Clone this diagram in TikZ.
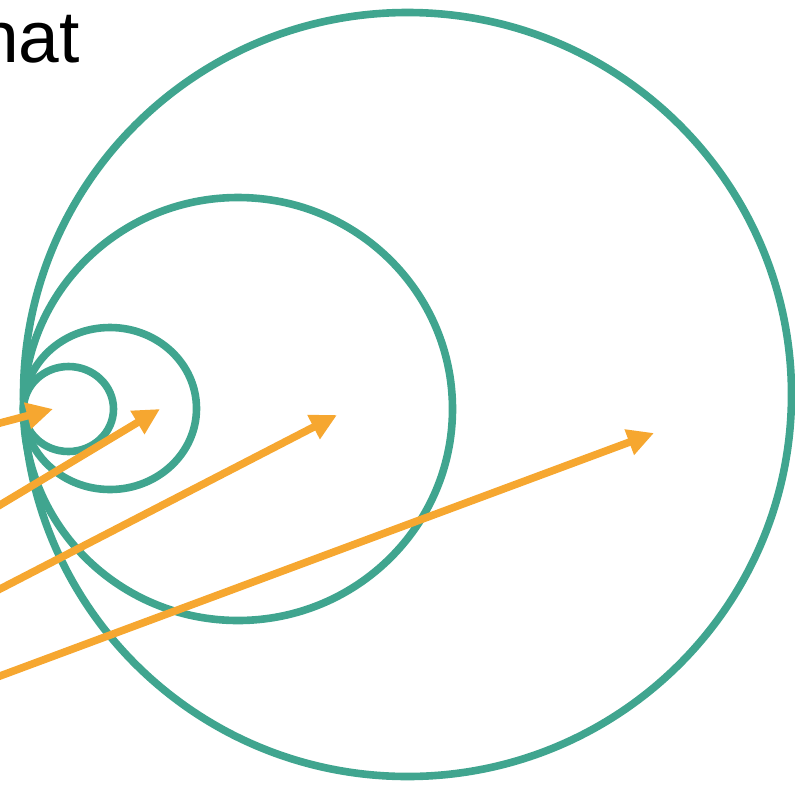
\documentclass[tikz,border=0pt]{standalone}
\usepackage{fontspec}
\setmainfont{Liberation Sans}
\usetikzlibrary{arrows.meta}
\definecolor{ringteal}{RGB}{64,165,143}
\definecolor{arroworange}{RGB}{246,167,48}

\begin{document}
\begin{tikzpicture}[
        x=0.025cm, y=-0.025cm,
        ring/.style={draw=ringteal, line width=0.19cm},
        ptr/.style={-{Triangle[length=0.66cm, width=0.64cm]}, line width=0.19cm, arroworange},
        title/.style={font=\fontsize{52}{62}\selectfont, inner sep=0pt, anchor=base east},
    ]
    \useasboundingbox (0,0) rectangle (795,784);
    \clip (0,0) rectangle (795,784);

    % ===== Title (cut at the left edge) =====
    \node[title] (T) at (80,62) {hat};

    % ===== Nested rings, all touching on the left =====
    \draw[ring] (68.5,409) circle [x radius=45, y radius=42.5];
    \draw[ring] (110,408.5) circle [x radius=86.5, y radius=81];
    \draw[ring] (238,409) circle [x radius=214.5, y radius=211.5];
    \draw[ring] (407.5,394.5) circle [x radius=384, y radius=382];

    % ===== Pointers coming in from the left =====
    \coordinate (s1) at (-20,428.3);  \coordinate (t1) at (53,409);
    \coordinate (s2) at (-20,517);    \coordinate (t2) at (160,409);
    \coordinate (s3) at (-20,599.3);  \coordinate (t3) at (337,415);
    \coordinate (s4) at (-20,683.4);  \coordinate (t4) at (654,433);

    \foreach \i in {1,...,4} { \draw[ptr] (s\i) -- (t\i); }
\end{tikzpicture}
\end{document}
